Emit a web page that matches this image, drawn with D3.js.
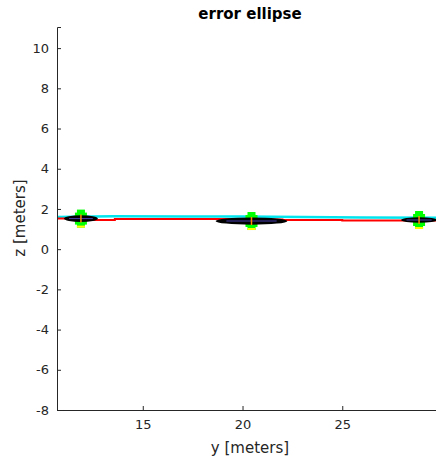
<!DOCTYPE html>
<html>
<head>
<meta charset="utf-8">
<script src="https://cdn.jsdelivr.net/npm/d3@7"></script>
<style>
  body { margin: 0; background: #fff; }
  text { font-family: "DejaVu Sans", sans-serif; }
</style>
</head>
<body>
<div id="chart"></div>
<script>
// pose centres (y, z) and ellipse half-axes
const poseY = [11.9, 20.45, 28.85];
const poseZ = [1.52, 1.4, 1.45];
const radY = [0.85, 1.8, 0.9];
const radZ = [0.17, 0.18, 0.14];

// trajectories
const cyanY = [10.7, 13.5, 17, 20, 23, 26, 30];
const cyanZ = [1.6, 1.64, 1.62, 1.62, 1.6, 1.58, 1.56];
const redY = [10.7, 12.5, 13.6, 15, 18, 20, 22, 25, 27, 30];
const redZ = [1.52, 1.45, 1.5, 1.5, 1.5, 1.48, 1.45, 1.42, 1.42, 1.44];

const xTicks = [15, 20, 25];
const yTicks = [-8, -6, -4, -2, 0, 2, 4, 6, 8, 10];

const W = 436, H = 462;
const m = {top: 27, right: -7, bottom: 52, left: 57};

const svg = d3.select("#chart").append("svg")
  .attr("width", W).attr("height", H);

const x = d3.scaleLinear().domain([10.7, 30.05]).range([m.left, W - m.right]);
const y = d3.scaleLinear().domain([-8, 11.05]).range([H - m.bottom, m.top]);

const plot = svg.append("g");

// cyan estimate line
const line = d3.line().x(d => x(d[0])).y(d => y(d[1]));
plot.append("path")
  .datum(cyanY.map((v, i) => [v, cyanZ[i]]))
  .attr("d", line).attr("fill", "none")
  .attr("stroke", "#00e5ee").attr("stroke-width", 2.5);

plot.append("path")
  .datum(redY.map((v, i) => [v, redZ[i]]))
  .attr("d", d3.line().curve(d3.curveStepAfter).x(d => x(d[0])).y(d => y(d[1])))
  .attr("fill", "none")
  .attr("stroke", "#ff0000").attr("stroke-width", 2);

// green markers
poseY.forEach((py, i) => {
  const cx = x(py), cy = y(poseZ[i]);
  plot.append("rect")
    .attr("x", cx - 4).attr("y", cy - 9).attr("width", 8).attr("height", 18)
    .attr("fill", "#00ff00");
  plot.append("rect")
    .attr("x", cx - 6).attr("y", cy - 6).attr("width", 12).attr("height", 12)
    .attr("fill", "#00ff00");
  plot.append("rect")
    .attr("x", cx - 4).attr("y", cy + 7).attr("width", 8).attr("height", 2)
    .attr("fill", "#ffff00");
});

// error ellipses
poseY.forEach((py, i) => {
  plot.append("ellipse")
    .attr("cx", x(py)).attr("cy", y(poseZ[i]))
    .attr("rx", x(py + radY[i]) - x(py))
    .attr("ry", y(0) - y(radZ[i]))
    .attr("fill", "#000");
  plot.append("line")
    .attr("x1", x(py - radY[i] * 0.7)).attr("x2", x(py + radY[i] * 0.7))
    .attr("y1", y(poseZ[i])).attr("y2", y(poseZ[i]))
    .attr("stroke", "#4a3fb0").attr("stroke-width", 1);
  plot.append("line")
    .attr("x1", x(py)).attr("x2", x(py))
    .attr("y1", y(poseZ[i]) - 4).attr("y2", y(poseZ[i]) + 4)
    .attr("stroke", "#ff8c00").attr("stroke-width", 1.5);
});

// axes
const axCol = "#262626";
const fmt = d => String(d);
const gx = svg.append("g")
  .attr("transform", `translate(0,${H - m.bottom})`)
  .call(d3.axisBottom(x).tickValues(xTicks).tickFormat(fmt).tickSize(-4).tickPadding(10));
const gy = svg.append("g")
  .attr("transform", `translate(${m.left},0)`)
  .call(d3.axisLeft(y).tickValues(yTicks).tickFormat(fmt).tickSize(-4).tickPadding(8));
[gx, gy].forEach(g => {
  g.select(".domain").attr("stroke", axCol);
  g.selectAll(".tick line").attr("stroke", axCol);
  g.selectAll(".tick text").attr("fill", axCol)
    .style("font-size", "13px").style("font-family", "DejaVu Sans, sans-serif");
});

svg.append("text")
  .attr("x", 250).attr("y", 19)
  .attr("text-anchor", "middle")
  .style("font-size", "15px").style("font-weight", "bold")
  .attr("fill", "#000")
  .text("error ellipse");

svg.append("text")
  .attr("x", 250).attr("y", 453)
  .attr("text-anchor", "middle")
  .style("font-size", "15px").attr("fill", axCol)
  .text("y [meters]");

svg.append("text")
  .attr("transform", "translate(25,218) rotate(-90)")
  .attr("text-anchor", "middle")
  .style("font-size", "15px").attr("fill", axCol)
  .text("z [meters]");
</script>
</body>
</html>
